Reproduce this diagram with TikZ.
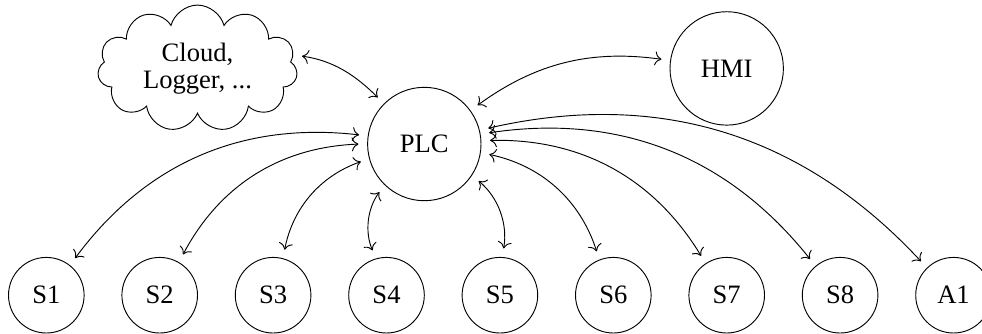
\documentclass[tikz,border=0pt]{standalone}
\usepackage{fontspec}
\setmainfont{Liberation Serif}
\usetikzlibrary{shapes.symbols,arrows.meta}
\begin{document}
\begin{tikzpicture}
[line width=0.7pt,>={Computer Modern Rightarrow[scale=1.6]},%
  devicedecorate/.style={shape=circle,draw,minimum size=2cm,inner sep=0pt},%
  bigdecorate/.style={shape=circle,draw,minimum size=3cm,inner sep=0pt},%
  clouddecorate/.style={shape=cloud,draw,cloud puffs=11,aspect=1.6,%
    minimum width=5.29cm,minimum height=3.35cm,inner sep=0pt,align=center},%
  linedecorate/.style={<->,shorten <=0.23cm,shorten >=0.23cm},%
  font=\fontsize{20}{20.5}\selectfont]
\useasboundingbox (-1.225,-1.0) rectangle (24.754,7.81);
%% field devices
\foreach \nodename/\x in {S1/0, S2/3, S3/6, S4/9, S5/12,
  S6/15, S7/18, S8/21, A1/24} {
  \node (\nodename) at (\x,0) [devicedecorate] {\nodename};
}
%% controller, panel and cloud
\node (plc) at (10,4) [bigdecorate] {PLC};
\node (hmi) at (18,6) [bigdecorate] {HMI};
\node (cloud) at (4,6) [clouddecorate] {Cloud,\\Logger, ...};
%% links
\path
\foreach \endnode in {S1, S2, S3, S4} {
  (plc) edge[linedecorate,bend right] (\endnode)
}
\foreach \endnode in {S5, S6, S7, S8, A1} {
  (plc) edge[linedecorate,bend left] (\endnode)
}
(cloud.8) edge[linedecorate,out=-8,in=135] (plc)
(plc) edge[linedecorate,bend left=22] (hmi);
\end{tikzpicture}
\end{document}
